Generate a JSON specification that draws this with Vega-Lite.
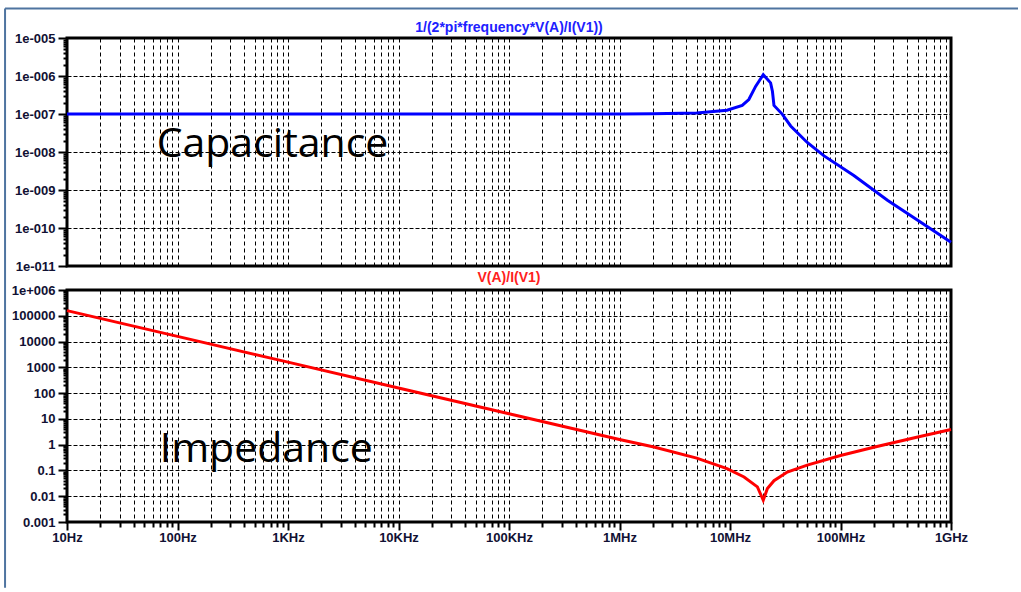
{
  "$schema": "https://vega.github.io/schema/vega-lite/v6.json",
  "padding": {"left": 2, "top": 5, "right": 0, "bottom": 0},
  "background": "white",
  "bounds": "flush",
  "spacing": 24,
  "config": {
    "view": {"stroke": "black", "strokeWidth": 3},
    "axis": {
      "labelFont": "Liberation Sans", "labelFontWeight": "bold", "labelFontSize": 13, "labelColor": "#111133",
      "gridColor": "black", "gridWidth": 1, "gridOpacity": 1, "tickColor": "black", "tickWidth": 2,
      "domain": false, "labelFlush": false, "labelOverlap": false, "labelBound": false
    }
  },
  "datasets": {
    "cap": [
      {"f": 10, "C": 1.0e-7}, {"f": 1000000, "C": 1.0e-7}, {"f": 2000000, "C": 1.01e-7},
      {"f": 5000000, "C": 1.07e-7}, {"f": 9400000, "C": 1.26e-7}, {"f": 12900000, "C": 1.68e-7},
      {"f": 14800000, "C": 2.4e-7}, {"f": 17100000, "C": 5.4e-7}, {"f": 20000000, "C": 1.08e-6},
      {"f": 23300000, "C": 6.6e-7}, {"f": 24200000, "C": 4.0e-7}, {"f": 25000000, "C": 1.68e-7},
      {"f": 29800000, "C": 9.8e-8}, {"f": 35400000, "C": 4.84e-8}, {"f": 50000000, "C": 1.78e-8},
      {"f": 71000000, "C": 7.9e-9}, {"f": 132000000, "C": 2.4e-9}, {"f": 266000000, "C": 5.4e-10},
      {"f": 1000000000, "C": 4.2e-11}
    ],
    "imp": [
      {"f": 10, "Z": 159000}, {"f": 100, "Z": 15900}, {"f": 1000, "Z": 1590}, {"f": 10000, "Z": 159},
      {"f": 100000, "Z": 15.9}, {"f": 1000000, "Z": 1.59}, {"f": 2050000, "Z": 0.81},
      {"f": 5000000, "Z": 0.3}, {"f": 9400000, "Z": 0.117}, {"f": 13400000, "Z": 0.056},
      {"f": 17700000, "Z": 0.023}, {"f": 20000000, "Z": 0.007}, {"f": 21800000, "Z": 0.02},
      {"f": 25000000, "Z": 0.04}, {"f": 33000000, "Z": 0.087}, {"f": 50000000, "Z": 0.16},
      {"f": 100000000, "Z": 0.38}, {"f": 200000000, "Z": 0.79}, {"f": 500000000, "Z": 1.98},
      {"f": 1000000000, "Z": 3.9}
    ]
  },
  "vconcat": [
    {
      "width": 884,
      "height": 228,
      "layer": [
        {
          "data": {"name": "cap"},
          "mark": {"type": "line", "color": "#0000ff", "strokeWidth": 3},
          "encoding": {
            "x": {
              "field": "f", "type": "quantitative", "title": null,
              "scale": {"type": "log", "domain": [10, 1000000000], "nice": false},
              "axis": {
                "title": null, "labels": false, "ticks": false, "grid": true, "gridDash": [4, 3],
                "values": [10,20,30,40,50,60,70,80,90,100,200,300,400,500,600,700,800,900,1000,2000,3000,4000,5000,6000,7000,8000,9000,10000,20000,30000,40000,50000,60000,70000,80000,90000,100000,200000,300000,400000,500000,600000,700000,800000,900000,1000000,2000000,3000000,4000000,5000000,6000000,7000000,8000000,9000000,10000000,20000000,30000000,40000000,50000000,60000000,70000000,80000000,90000000,100000000,200000000,300000000,400000000,500000000,600000000,700000000,800000000,900000000,1000000000]
              }
            },
            "y": {
              "field": "C", "type": "quantitative", "title": null,
              "scale": {"type": "log", "domain": [1e-11, 1e-5], "nice": false},
              "axis": {
                "title": null, "grid": true, "gridDash": [4, 2],
                "gridOpacity": {"condition": {"test": "abs(log(datum.value)/LN10 - round(log(datum.value)/LN10)) < 0.001", "value": 1}, "value": 0},
                "tickSize": {"condition": {"test": "abs(log(datum.value)/LN10 - round(log(datum.value)/LN10)) < 0.001", "value": 9}, "value": 4},
                "labelPadding": 3,
                "labelExpr": "abs(log(datum.value)/LN10 - round(log(datum.value)/LN10)) < 0.001 ? ((round(-log(datum.value)/LN10) < 10 ? '1e-00' : '1e-0') + round(-log(datum.value)/LN10)) : ''",
                "values": [1e-11,2e-11,3e-11,4e-11,5e-11,6e-11,7e-11,8e-11,9e-11,1e-10,2e-10,3e-10,4e-10,5e-10,6e-10,7e-10,8e-10,9e-10,1e-9,2e-9,3e-9,4e-9,5e-9,6e-9,7e-9,8e-9,9e-9,1e-8,2e-8,3e-8,4e-8,5e-8,6e-8,7e-8,8e-8,9e-8,1e-7,2e-7,3e-7,4e-7,5e-7,6e-7,7e-7,8e-7,9e-7,1e-6,2e-6,3e-6,4e-6,5e-6,6e-6,7e-6,8e-6,9e-6,1e-5]
              }
            }
          }
        },
        {
          "data": {"values": [{"label": "Capacitance"}]},
          "mark": {"type": "text", "font": "Open Sans", "fontSize": 41, "align": "left", "baseline": "alphabetic", "color": "black"},
          "encoding": {
            "x": {"datum": 64.8, "type": "quantitative", "title": null, "scale": {"type": "log", "domain": [10, 1000000000], "nice": false}},
            "y": {"datum": 7.3e-9, "type": "quantitative", "title": null, "scale": {"type": "log", "domain": [1e-11, 1e-5], "nice": false}},
            "text": {"field": "label"}
          }
        },
        {
          "data": {"values": [{"label": "1/(2*pi*frequency*V(A)/I(V1))"}]},
          "mark": {"type": "text", "font": "Liberation Sans", "fontWeight": "bold", "fontSize": 14, "align": "center", "baseline": "middle", "color": "#2020ff"},
          "encoding": {
            "x": {"datum": 100000, "type": "quantitative", "title": null, "scale": {"type": "log", "domain": [10, 1000000000], "nice": false}},
            "y": {"datum": 1.85e-5, "type": "quantitative", "title": null, "scale": {"type": "log", "domain": [1e-11, 1e-5], "nice": false}},
            "text": {"field": "label"}
          }
        },
        {
          "data": {"values": [{}]},
          "mark": {"type": "rule", "color": "#4f74a0", "strokeWidth": 2},
          "encoding": {
            "x": {"datum": 2.75, "type": "quantitative", "title": null, "scale": {"type": "log", "domain": [10, 1000000000], "nice": false}},
            "x2": {"datum": 4040000000},
            "y": {"datum": 5.99e-5, "type": "quantitative", "title": null, "scale": {"type": "log", "domain": [1e-11, 1e-5], "nice": false}}
          }
        },
        {
          "data": {"values": [{}]},
          "mark": {"type": "rule", "color": "#4f74a0", "strokeWidth": 2},
          "encoding": {
            "x": {"datum": 2.75, "type": "quantitative", "title": null, "scale": {"type": "log", "domain": [10, 1000000000], "nice": false}},
            "y": {"datum": 5.99e-5, "type": "quantitative", "title": null, "scale": {"type": "log", "domain": [1e-11, 1e-5], "nice": false}},
            "y2": {"datum": 3.4e-20}
          }
        }
      ]
    },
    {
      "width": 884,
      "height": 232,
      "layer": [
        {
          "data": {"name": "imp"},
          "mark": {"type": "line", "color": "#ff0000", "strokeWidth": 3},
          "encoding": {
            "x": {
              "field": "f", "type": "quantitative", "title": null,
              "scale": {"type": "log", "domain": [10, 1000000000], "nice": false},
              "axis": {
                "title": null, "grid": true, "gridDash": [4, 3],
                "tickSize": {"condition": {"test": "abs(log(datum.value)/LN10 - round(log(datum.value)/LN10)) < 0.001", "value": 8}, "value": 5},
                "labelPadding": 1.5,
                "labelExpr": "abs(log(datum.value)/LN10 - round(log(datum.value)/LN10)) < 0.001 ? ['10Hz','100Hz','1KHz','10KHz','100KHz','1MHz','10MHz','100MHz','1GHz'][round(log(datum.value)/LN10) - 1] : ''",
                "values": [10,20,30,40,50,60,70,80,90,100,200,300,400,500,600,700,800,900,1000,2000,3000,4000,5000,6000,7000,8000,9000,10000,20000,30000,40000,50000,60000,70000,80000,90000,100000,200000,300000,400000,500000,600000,700000,800000,900000,1000000,2000000,3000000,4000000,5000000,6000000,7000000,8000000,9000000,10000000,20000000,30000000,40000000,50000000,60000000,70000000,80000000,90000000,100000000,200000000,300000000,400000000,500000000,600000000,700000000,800000000,900000000,1000000000]
              }
            },
            "y": {
              "field": "Z", "type": "quantitative", "title": null,
              "scale": {"type": "log", "domain": [0.001, 1000000], "nice": false},
              "axis": {
                "title": null, "grid": true, "gridDash": [4, 2],
                "gridOpacity": {"condition": {"test": "abs(log(datum.value)/LN10 - round(log(datum.value)/LN10)) < 0.001", "value": 1}, "value": 0},
                "tickSize": {"condition": {"test": "abs(log(datum.value)/LN10 - round(log(datum.value)/LN10)) < 0.001", "value": 9}, "value": 4},
                "labelPadding": 3,
                "labelExpr": "abs(log(datum.value)/LN10 - round(log(datum.value)/LN10)) < 0.001 ? (datum.value > 999999 ? '1e+006' : '' + datum.value) : ''",
                "values": [0.001,0.002,0.003,0.004,0.005,0.006,0.007,0.008,0.009,0.01,0.02,0.03,0.04,0.05,0.06,0.07,0.08,0.09,0.1,0.2,0.3,0.4,0.5,0.6,0.7,0.8,0.9,1,2,3,4,5,6,7,8,9,10,20,30,40,50,60,70,80,90,100,200,300,400,500,600,700,800,900,1000,2000,3000,4000,5000,6000,7000,8000,9000,10000,20000,30000,40000,50000,60000,70000,80000,90000,100000,200000,300000,400000,500000,600000,700000,800000,900000,1000000]
              }
            }
          }
        },
        {
          "data": {"values": [{"label": "Impedance"}]},
          "mark": {"type": "text", "font": "Open Sans", "fontSize": 41, "align": "left", "baseline": "alphabetic", "color": "black"},
          "encoding": {
            "x": {"datum": 69, "type": "quantitative", "title": null, "scale": {"type": "log", "domain": [10, 1000000000], "nice": false}},
            "y": {"datum": 0.204, "type": "quantitative", "title": null, "scale": {"type": "log", "domain": [0.001, 1000000], "nice": false}},
            "text": {"field": "label"}
          }
        },
        {
          "data": {"values": [{"label": "V(A)/I(V1)"}]},
          "mark": {"type": "text", "font": "Liberation Sans", "fontWeight": "bold", "fontSize": 14, "align": "center", "baseline": "middle", "color": "#ff2020"},
          "encoding": {
            "x": {"datum": 100000, "type": "quantitative", "title": null, "scale": {"type": "log", "domain": [10, 1000000000], "nice": false}},
            "y": {"datum": 2840000, "type": "quantitative", "title": null, "scale": {"type": "log", "domain": [0.001, 1000000], "nice": false}},
            "text": {"field": "label"}
          }
        }
      ]
    }
  ]
}
